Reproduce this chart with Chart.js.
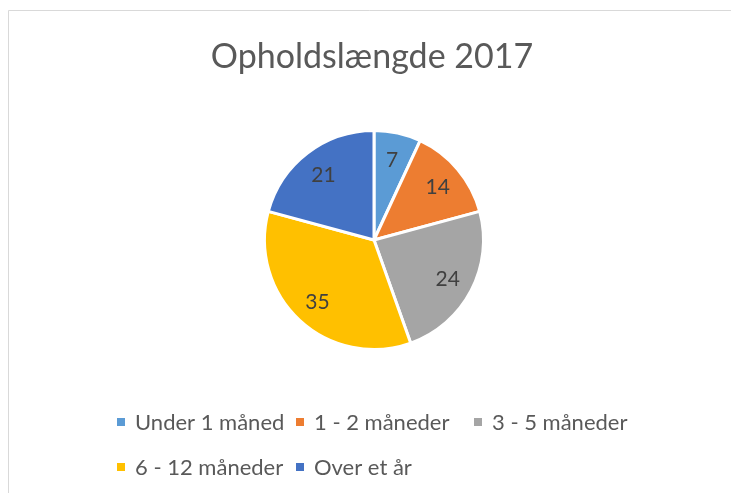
<!DOCTYPE html>
<html>
<head>
<meta charset="utf-8">
<script src="https://cdn.jsdelivr.net/npm/chart.js@4.4.1/dist/chart.umd.min.js"></script>
<style>
  html, body { margin: 0; padding: 0; background: #ffffff; }
  #wrap { width: 731px; height: 493px; position: relative; }
</style>
</head>
<body>
<div id="wrap"><canvas id="c" width="731" height="493"></canvas></div>
<script>
const chartTitle = "Opholdslængde 2017";
const categories = ["Under 1 måned", "1 - 2 måneder", "3 - 5 måneder", "6 - 12 måneder", "Over et år"];
const values = [7, 14, 24, 35, 21];
const colors = ["#5B9BD5", "#ED7D31", "#A5A5A5", "#FFC000", "#4472C4"];

const FONT = "Lato, 'Open Sans', sans-serif";

const framePlugin = {
  id: 'frame',
  beforeDraw(chart) {
    const ctx = chart.ctx;
    ctx.save();
    ctx.fillStyle = '#ffffff';
    ctx.fillRect(0, 0, chart.width, chart.height);
    ctx.strokeStyle = '#d9d9d9';
    ctx.lineWidth = 1;
    ctx.beginPath();
    ctx.moveTo(8.5, chart.height);
    ctx.lineTo(8.5, 10.5);
    ctx.lineTo(chart.width, 10.5);
    ctx.stroke();
    // title
    ctx.fillStyle = '#595959';
    ctx.font = "34px " + FONT;
    ctx.textAlign = 'center';
    ctx.textBaseline = 'alphabetic';
    ctx.fillText(chartTitle, 372, 68);
    ctx.restore();
  }
};

const labelsPlugin = {
  id: 'sliceLabels',
  afterDatasetsDraw(chart) {
    const ctx = chart.ctx;
    const meta = chart.getDatasetMeta(0);
    ctx.save();
    ctx.fillStyle = '#404040';
    ctx.font = "21px " + FONT;
    ctx.textAlign = 'center';
    ctx.textBaseline = 'middle';
    meta.data.forEach((arc, i) => {
      const p = arc.getProps(['x', 'y', 'startAngle', 'endAngle', 'outerRadius'], true);
      const mid = (p.startAngle + p.endAngle) / 2;
      const r = p.outerRadius * 0.76;
      ctx.fillText(String(chart.data.datasets[0].data[i]), p.x + Math.cos(mid) * r, p.y + Math.sin(mid) * r + 1);
    });
    ctx.restore();
  }
};

const legendPlugin = {
  id: 'gridLegend',
  afterDraw(chart) {
    const ctx = chart.ctx;
    const ds = chart.data.datasets[0];
    const cols = [117, 296, 474];
    const rows = [422, 467];
    ctx.save();
    ctx.font = "22px " + FONT;
    ctx.textBaseline = 'middle';
    ctx.textAlign = 'left';
    chart.data.labels.forEach((lab, i) => {
      const col = i % 3, row = Math.floor(i / 3);
      const x = cols[col], y = rows[row];
      ctx.fillStyle = ds.backgroundColor[i];
      ctx.fillRect(x, y - 4, 8, 8);
      ctx.fillStyle = '#595959';
      ctx.fillText(lab, x + 18, y + 1);
    });
    ctx.restore();
  }
};

new Chart(document.getElementById('c'), {
  type: 'pie',
  data: {
    labels: categories,
    datasets: [{
      data: values,
      backgroundColor: colors,
      borderColor: '#ffffff',
      borderWidth: 3
    }]
  },
  options: {
    responsive: false,
    animation: false,
    layout: { padding: { top: 129, bottom: 142, left: 263, right: 246 } },
    plugins: {
      legend: { display: false },
      title: { display: false },
      tooltip: { enabled: false }
    }
  },
  plugins: [framePlugin, labelsPlugin, legendPlugin]
});
</script>
</body>
</html>
